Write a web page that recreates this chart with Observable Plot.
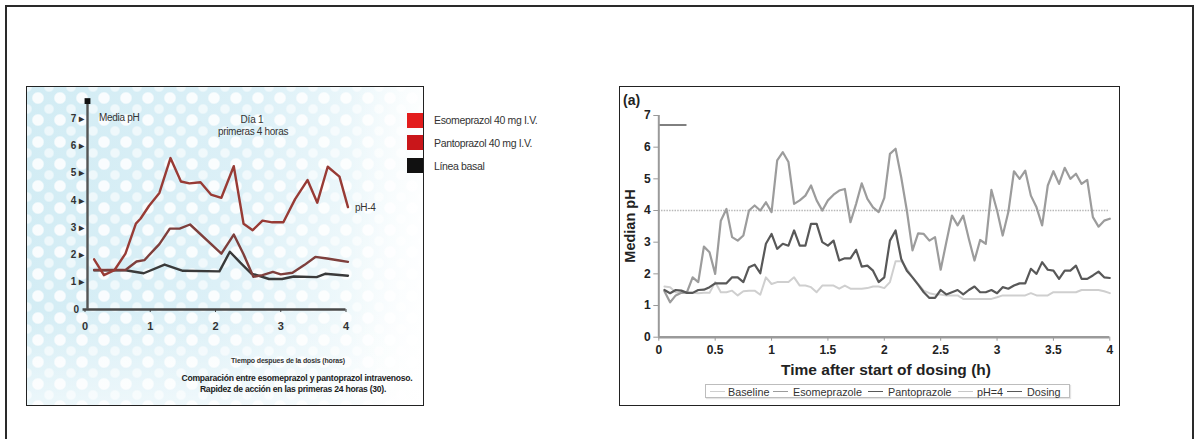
<!DOCTYPE html>
<html>
<head>
<meta charset="utf-8">
<script src="https://cdn.jsdelivr.net/npm/d3@7"></script>
<script src="https://cdn.jsdelivr.net/npm/@observablehq/plot@0.6"></script>
<style>
html, body { margin: 0; padding: 0; background: #fff; }
#root { position: relative; width: 1198px; height: 439px; overflow: hidden; font-family: "Liberation Sans", Arial, sans-serif; }
.abs { position: absolute; box-sizing: border-box; }
#outer { left: 5px; top: 5px; width: 1189px; height: 470px; border: 2px solid #2a2a2a; }
#lpanel { left: 26px; top: 86px; width: 398px; height: 320px; border: 1px solid #222;
  background:
    radial-gradient(circle, rgba(255,255,255,0.85) 0 5px, rgba(255,255,255,0) 6.5px) 0 0/22px 22px,
    radial-gradient(circle, rgba(255,255,255,0.6) 0 4px, rgba(255,255,255,0) 5.5px) 11px 11px/22px 22px,
    linear-gradient(100deg, #d2ecf4 0%, #dcf0f7 50%, #eef8fb 78%, #ffffff 100%);
}
#lfade { left: 27px; top: 87px; width: 396px; height: 318px;
  background:
    linear-gradient(to right, rgba(255,255,255,0) 0%, rgba(255,255,255,0) 82%, rgba(255,255,255,0.75) 100%),
    linear-gradient(to bottom, rgba(255,255,255,0) 0%, rgba(255,255,255,0) 70%, rgba(255,255,255,0.55) 100%);
}
#rpanel { left: 619px; top: 86px; width: 501px; height: 320px; border: 1px solid #222; background: #fff; }
.plotsvg { position: absolute; }
.rplot text { font-weight: bold; }
.lplot text { font-weight: bold; }
#rlegend { left: 705px; top: 384px; width: 365px; height: 14px; border: 1px solid #bdbdbd; box-shadow: 1px 1px 1px #e4e4e4; background: #fff; }
</style>
</head>
<body>
<div id="root">
  <div id="outer" class="abs"></div>
  <div id="lpanel" class="abs"></div>
  <div id="lfade" class="abs"></div>
  <div id="rpanel" class="abs"></div>
  <div id="rlegend" class="abs"></div>
</div>
<script>
// ---------------- LEFT CHART DATA (Spanish) ----------------
const leftSeriesNames = ["Esomeprazol 40 mg I.V.", "Pantoprazol 40 mg I.V.", "Línea basal"];
const leftEsoTime  = [0.14,0.29,0.45,0.62,0.78,0.85,0.98,1.14,1.31,1.47,1.60,1.77,1.93,2.09,2.28,2.43,2.57,2.72,2.87,3.04,3.22,3.41,3.56,3.72,3.90,4.03];
const leftEsoPH    = [1.84,1.26,1.44,2.05,3.15,3.33,3.80,4.28,5.56,4.70,4.63,4.67,4.22,4.10,5.26,3.15,2.91,3.26,3.20,3.20,4.05,4.75,3.92,5.24,4.88,3.76];
const leftPantoTime = [0.14,0.62,0.79,0.91,1.06,1.14,1.30,1.45,1.61,2.09,2.28,2.43,2.58,2.72,2.88,3.00,3.18,3.36,3.53,3.71,3.90,4.03];
const leftPantoPH   = [1.45,1.45,1.76,1.81,2.20,2.40,2.97,2.97,3.12,2.05,2.75,2.03,1.20,1.26,1.38,1.29,1.35,1.63,1.93,1.87,1.80,1.75];
const leftBaseTime = [0.14,0.62,0.90,1.22,1.50,2.06,2.22,2.38,2.55,2.82,3.02,3.20,3.55,3.68,4.03];
const leftBasePH   = [1.44,1.44,1.33,1.65,1.42,1.40,2.12,1.72,1.32,1.12,1.12,1.21,1.19,1.31,1.24];
const leftXTicks = [0, 1, 2, 3, 4];
const leftYTicks = [0, 1, 2, 3, 4, 5, 6, 7];
const leftAxisTop = 7.65;

// ---------------- RIGHT CHART DATA (English) ----------------
const rightSeriesNames = ["Baseline", "Esomeprazole", "Pantoprazole", "pH=4", "Dosing"];
const rightTime = [0.05,0.10,0.15,0.20,0.25,0.30,0.35,0.40,0.45,0.50,0.55,0.60,0.65,0.70,0.75,0.80,0.85,0.90,0.95,1.00,
  1.05,1.10,1.15,1.20,1.25,1.30,1.35,1.40,1.45,1.50,1.55,1.60,1.65,1.70,1.75,1.80,1.85,1.90,1.95,2.00,
  2.05,2.10,2.15,2.20,2.25,2.30,2.35,2.40,2.45,2.50,2.55,2.60,2.65,2.70,2.75,2.80,2.85,2.90,2.95,3.00,
  3.05,3.10,3.15,3.20,3.25,3.30,3.35,3.40,3.45,3.50,3.55,3.60,3.65,3.70,3.75,3.80,3.85,3.90,3.95,4.00];
const baselinePH = [1.60,1.58,1.42,1.40,1.40,1.40,1.39,1.40,1.40,1.74,1.42,1.42,1.47,1.32,1.45,1.47,1.47,1.34,1.89,1.68,
  1.74,1.74,1.74,1.89,1.63,1.63,1.58,1.42,1.63,1.63,1.63,1.53,1.63,1.53,1.53,1.53,1.55,1.60,1.60,1.55,
  1.74,2.40,2.40,2.16,1.89,1.68,1.47,1.39,1.35,1.35,1.32,1.32,1.32,1.21,1.21,1.21,1.21,1.21,1.21,1.26,
  1.32,1.32,1.32,1.32,1.32,1.39,1.32,1.32,1.32,1.42,1.42,1.42,1.42,1.42,1.49,1.49,1.49,1.49,1.45,1.39];
const esomeprazolePH = [1.45,1.10,1.32,1.40,1.42,1.89,1.74,2.86,2.68,2.00,3.68,4.05,3.16,3.05,3.21,4.00,4.16,4.00,4.26,3.95,
  5.58,5.84,5.53,4.21,4.32,4.47,4.79,4.32,4.00,4.32,4.50,4.63,4.68,3.63,4.21,4.86,4.37,4.10,3.95,4.40,
  5.79,5.95,5.05,4.00,2.74,3.28,3.26,3.05,3.16,2.13,3.00,3.84,3.53,3.84,3.10,2.42,3.07,2.95,4.65,4.00,
  3.21,3.95,5.24,5.00,5.26,4.47,4.10,3.53,4.79,5.24,4.84,5.35,5.00,5.16,4.84,4.97,3.79,3.49,3.68,3.74];
const pantoprazolePH = [1.49,1.39,1.49,1.47,1.40,1.40,1.49,1.50,1.58,1.70,1.70,1.70,1.89,1.89,1.74,2.21,2.29,2.02,2.95,3.26,
  2.79,2.95,2.89,3.37,2.89,2.89,3.58,3.58,3.00,2.89,3.05,2.42,2.49,2.49,2.76,2.23,2.26,2.10,1.74,1.89,
  3.05,3.37,2.47,2.10,1.89,1.66,1.42,1.24,1.24,1.49,1.35,1.42,1.49,1.35,1.49,1.60,1.42,1.42,1.49,1.39,
  1.58,1.53,1.63,1.70,1.70,2.16,2.00,2.37,2.13,2.10,1.84,2.10,2.10,2.26,1.84,1.84,1.95,2.07,1.89,1.87];
const phThreshold = 4;
const dosingStart = 0, dosingEnd = 0.25, dosingLevel = 6.7;
const rightXTicks = [0, 0.5, 1, 1.5, 2, 2.5, 3, 3.5, 4];
const rightYTicks = [0, 1, 2, 3, 4, 5, 6, 7];

// ---------------- helpers ----------------
const root = document.getElementById("root");
const narrow = '"Liberation Sans Narrow", "Arial Narrow", "Liberation Sans", Arial, sans-serif';
const sans = '"Liberation Sans", Arial, sans-serif';
function label(txt, x, y, o = {}) {
  const {size = 10, weight = "normal", anchor = "start", family = sans, color = "#222", rotate = 0, spacing = 0} = o;
  const d = document.createElement("div");
  d.textContent = txt;
  d.style.cssText = `position:absolute;left:${x}px;top:${y}px;font-size:${size}px;font-weight:${weight};color:${color};font-family:${family};white-space:nowrap;line-height:1;letter-spacing:${spacing}px;`;
  const tx = anchor === "start" ? "0" : anchor === "middle" ? "-50%" : "-100%";
  d.style.transform = `translate(${tx},-50%)` + (rotate ? ` rotate(${rotate}deg)` : "");
  root.appendChild(d);
  return d;
}
const zip = (t, v) => t.map((x, i) => ({time: x, ph: v[i]}));

// ---------------- LEFT PLOT ----------------
const leftEso = zip(leftEsoTime, leftEsoPH);
const leftPanto = zip(leftPantoTime, leftPantoPH);
const leftBase = zip(leftBaseTime, leftBasePH);

const lp = Plot.plot({
  width: 398, height: 320,
  marginLeft: 58.5, marginRight: 78.5, marginTop: 32.3, marginBottom: 97,
  x: {domain: [0, 4]},
  y: {domain: [0, 7]},
  className: "lplot",
  style: {background: "transparent", fontFamily: sans, overflow: "visible"},
  marks: [
    Plot.ruleY([0], {x1: -0.03, x2: 4, stroke: "#484848", strokeWidth: 2.6}),
    Plot.ruleX([0], {y1: 0, y2: leftAxisTop, dx: 2.5, stroke: "#555", strokeWidth: 2.4}),
    Plot.dot([leftAxisTop], {x: () => 0, y: d => d, dx: 2.5, symbol: "square", r: 3.3, fill: "#111"}),
    Plot.axisX({ticks: leftXTicks, tickSize: 3, tickPadding: 10, fontSize: 11, fontWeight: "bold", stroke: "#444", fill: "#333", tickFormat: d => String(d), label: null}),
    Plot.axisY({ticks: leftYTicks, tickSize: 0, tickPadding: 1, fontSize: 10, fontWeight: "bold", fill: "#333",
      tickFormat: d => d === 0 ? "0\u2002" : d + " \u25B8", label: null}),
    Plot.line(leftBase, {x: "time", y: "ph", stroke: "#3a3a3a", strokeWidth: 2.4}),
    Plot.line(leftPanto, {x: "time", y: "ph", stroke: "#7e3f3c", strokeWidth: 2.4}),
    Plot.line(leftEso, {x: "time", y: "ph", stroke: "#983b35", strokeWidth: 2.4})
  ]
});
lp.classList.add("plotsvg");
lp.style.left = "26px"; lp.style.top = "86px"; lp.style.width = "398px"; lp.style.height = "320px";
root.appendChild(lp);

// Left texts
label("Media pH", 99, 118, {size: 10, color: "#333", spacing: -0.3});
label("Día 1", 252, 120, {size: 10, anchor: "middle", color: "#333", spacing: -0.2});
label("primeras 4 horas", 253, 131.5, {size: 10, anchor: "middle", color: "#333", spacing: -0.3});
label("pH-4", 355, 208, {size: 10, color: "#333", spacing: -0.3});
label("Tiempo despues de la dosis (horas)", 288, 360, {size: 7, weight: "bold", anchor: "middle", color: "#333", spacing: -0.15});
label("Comparación entre esomeprazol y pantoprazol intravenoso.", 297, 378, {size: 8.6, weight: "bold", anchor: "middle", color: "#222", spacing: -0.25});
label("Rapidez de acción en las primeras 24 horas (30).", 293, 389, {size: 8.6, weight: "bold", anchor: "middle", color: "#222", spacing: -0.25});

// Left legend (squares + names)
const leftLegendColors = ["#e31d1d", "#c9161a", "#111111"];
const leftLegendY = [120, 142.5, 165.5];
leftSeriesNames.forEach((name, i) => {
  const sq = document.createElement("div");
  sq.style.cssText = `position:absolute;left:407px;top:${leftLegendY[i] - 7.5}px;width:16px;height:15px;background:${leftLegendColors[i]};`;
  root.appendChild(sq);
  label(name, 434, leftLegendY[i], {size: 10.5, color: "#333", spacing: -0.35});
});

// ---------------- RIGHT PLOT ----------------
const baseline = zip(rightTime, baselinePH);
const esomeprazole = zip(rightTime, esomeprazolePH);
const pantoprazole = zip(rightTime, pantoprazolePH);
const dosing = [{x1: dosingStart, x2: dosingEnd, y: dosingLevel}];

const rp = Plot.plot({
  width: 501, height: 319,
  marginLeft: 39.3, marginRight: 10.7, marginTop: 29, marginBottom: 68.3,
  x: {domain: [0, 4]},
  y: {domain: [0, 7]},
  className: "rplot",
  style: {background: "transparent", fontFamily: sans, overflow: "visible"},
  marks: [
    Plot.ruleY([phThreshold], {stroke: "#b8b8b8", strokeWidth: 1.4, strokeDasharray: "1.5,1.2"}),
    Plot.line(baseline, {x: "time", y: "ph", stroke: "#cfcfcf", strokeWidth: 2}),
    Plot.line(esomeprazole, {x: "time", y: "ph", stroke: "#9c9c9c", strokeWidth: 2.2}),
    Plot.line(pantoprazole, {x: "time", y: "ph", stroke: "#585858", strokeWidth: 2.2}),
    Plot.ruleY(dosing, {x1: "x1", x2: "x2", y: "y", stroke: "#555", strokeWidth: 1.5}),
    Plot.ruleX([0], {y1: 0, y2: 7, stroke: "#9a9a9a", strokeWidth: 2}),
    Plot.ruleY([0], {x1: 0, x2: 4, stroke: "#9a9a9a", strokeWidth: 2.4}),
    Plot.axisX({ticks: rightXTicks, tickSize: 4, tickPadding: 4, fontSize: 12, fontWeight: "bold", stroke: "#999", fill: "#222", tickFormat: d => String(d), label: null}),
    Plot.axisY({ticks: rightYTicks, tickSize: 5, tickPadding: 3, fontSize: 12, fontWeight: "bold", stroke: "#999", fill: "#222", tickFormat: d => String(d), label: null})
  ]
});
rp.classList.add("plotsvg");
rp.style.left = "619px"; rp.style.top = "86px"; rp.style.width = "501px"; rp.style.height = "319px";
root.appendChild(rp);

label("(a)", 623, 100, {size: 14, weight: "bold", color: "#222"});
label("Median pH", 630, 226, {size: 14.5, weight: "bold", anchor: "middle", color: "#222", rotate: -90});
label("Time after start of dosing (h)", 886, 370, {size: 15.5, weight: "bold", anchor: "middle", color: "#222"});

// Right legend items
const legendLineColors = ["#cfcfcf", "#9c9c9c", "#585858", "#c8c8c8", "#585858"];
const legendLineX = [710, 773, 868, 958, 1007];
const legendTextX = [728, 793, 888, 977, 1027];
rightSeriesNames.forEach((name, i) => {
  const ln = document.createElement("div");
  ln.style.cssText = `position:absolute;left:${legendLineX[i]}px;top:390.5px;width:15px;height:1.5px;background:${legendLineColors[i]};`;
  root.appendChild(ln);
  label(name, legendTextX[i], 391.5, {size: 10.8, color: "#333"});
});
</script>
</body>
</html>
